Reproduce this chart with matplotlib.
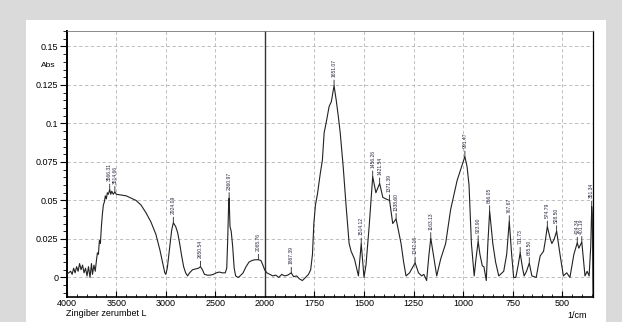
import matplotlib.pyplot as plt
import matplotlib.patches as mpatches
from matplotlib.ticker import FixedLocator
import numpy as np

plt.rcParams['font.family'] = ['Liberation Sans', 'DejaVu Sans']

# ---------------- spectre ----------------
wn = [4000, 3980, 3960, 3945, 3930, 3915, 3900, 3885, 3870, 3855, 3840, 3825, 3810, 3795,
      3780, 3765, 3750, 3740, 3725, 3712, 3700, 3690, 3680, 3670, 3660, 3650, 3640, 3630,
      3620, 3610, 3600, 3590, 3580, 3566, 3555, 3545, 3530, 3514, 3500, 3450, 3400, 3350,
      3300, 3250, 3200, 3150, 3100, 3060, 3030, 3010, 3000, 2985, 2960, 2940, 2924, 2900,
      2880, 2860, 2840, 2820, 2800, 2780, 2760, 2730, 2700, 2670, 2650, 2630, 2610, 2580,
      2550, 2520, 2490, 2460, 2430, 2400, 2385, 2375, 2367, 2361, 2352, 2340, 2325, 2310,
      2295, 2270, 2250, 2220, 2190, 2160, 2130, 2100, 2066, 2040, 2020, 2003, 1990, 1975,
      1960, 1945, 1930, 1915, 1900, 1885, 1867, 1855, 1840, 1825, 1811, 1795, 1780, 1769,
      1760, 1753, 1745, 1735, 1720, 1710, 1701, 1690, 1676, 1665, 1651, 1640, 1630, 1620,
      1605, 1590, 1575, 1565, 1548, 1528, 1514, 1500, 1490, 1474, 1456, 1440, 1421, 1405,
      1390, 1371, 1355, 1338, 1313, 1300, 1288, 1270, 1242, 1225, 1209, 1198, 1184, 1172,
      1163, 1150, 1133, 1113, 1088, 1063, 1030, 1000, 991, 980, 970, 958, 944, 935,
      924, 915, 903, 895, 883, 875, 866, 850, 836, 820, 795, 780, 767, 755,
      745, 734, 722, 712, 700, 692, 680, 666, 653, 631, 620, 611, 594, 585,
      575, 560, 552, 540, 528, 511, 494, 477, 461, 441, 424, 416, 401, 385,
      374, 364, 356, 351, 348, 344]
absb = [0.002, 0.003, 0.004, 0.002, 0.006, 0.003, 0.007, 0.004, 0.009, 0.005, 0.008, 0.003, 0.006, 0.001,
        0.007, 0.000, 0.009, 0.002, 0.008, 0.004, 0.011, 0.016, 0.015, 0.024, 0.022, 0.033, 0.041, 0.047,
        0.049, 0.053, 0.051, 0.055, 0.054, 0.057, 0.054, 0.056, 0.054, 0.0555, 0.054, 0.0535, 0.053, 0.0515,
        0.050, 0.047, 0.042, 0.036, 0.028, 0.018, 0.009, 0.003, 0.002, 0.006, 0.020, 0.031, 0.0355, 0.033,
        0.029, 0.022, 0.014, 0.007, 0.003, 0.001, 0.003, 0.005, 0.0055, 0.006, 0.007, 0.005, 0.002, 0.0015,
        0.0015, 0.002, 0.003, 0.0035, 0.003, 0.003, 0.006, 0.025, 0.045, 0.0515, 0.033, 0.030, 0.020, 0.006,
        0.001, 0.000, 0.001, 0.003, 0.007, 0.010, 0.011, 0.0115, 0.0115, 0.011, 0.008, 0.005, 0.003, 0.002,
        0.001, 0.0015, 0.000, 0.002, 0.001, 0.0015, 0.003, 0.0005, 0.001, -0.001, -0.002, 0.000, 0.002, 0.005,
        0.015, 0.035, 0.047, 0.054, 0.068, 0.076, 0.094, 0.101, 0.111, 0.114, 0.1245, 0.115, 0.105, 0.094,
        0.072, 0.046, 0.022, 0.017, 0.012, 0.001, 0.022, 0.000, 0.008, 0.033, 0.0655, 0.055, 0.061, 0.052,
        0.051, 0.050, 0.035, 0.038, 0.022, 0.010, 0.001, 0.003, 0.0095, 0.003, 0.001, 0.002, -0.002, 0.015,
        0.0255, 0.015, 0.001, 0.012, 0.022, 0.044, 0.063, 0.075, 0.0785, 0.072, 0.060, 0.022, 0.001, 0.012,
        0.0235, 0.015, 0.0075, 0.007, -0.002, 0.022, 0.043, 0.022, 0.010, 0.001, 0.004, 0.015, 0.0365, 0.015,
        0.000, 0.000, 0.008, 0.016, 0.006, 0.001, 0.004, 0.0093, 0.001, 0.000, 0.008, 0.014, 0.017, 0.024,
        0.033, 0.025, 0.022, 0.025, 0.030, 0.015, 0.001, 0.003, 0.000, 0.015, 0.0225, 0.019, 0.023, 0.001,
        0.004, 0.001, 0.020, 0.046, 0.040, -0.02]

# pics annotes
pic_wn = [3566, 3514, 2924, 2650, 2361, 2066, 1867, 1651, 1514, 1456, 1421, 1371, 1338,
          1242, 1163, 991, 924, 866, 767, 712, 666, 575, 528, 424, 401, 351]
pic_txt = ['3566.31', '3514.66', '2924.09', '2650.54', '2360.97', '2065.76', '1867.39',
           '1651.07', '1514.12', '1456.26', '1421.54', '1371.39', '1338.60', '1242.16',
           '1163.13', '991.47', '923.90', '866.05', '767.67', '711.73', '665.50',
           '574.79', '528.50', '424.34', '401.19', '351.34']

y_ticks = [0, 0.025, 0.05, 0.075, 0.1, 0.125, 0.15]
y_labels = ['0', '0.025', '0.05', '0.075', '0.1', '0.125', '0.15']
x_ticks = [4000, 3500, 3000, 2500, 2000, 1750, 1500, 1250, 1000, 750, 500]


# echelle coupee a 2000 (partie gauche compressee)
def fwd(x):
    x = np.asarray(x, dtype=float)
    return np.where(x > 2000, 2000 + (x - 2000) / 2.0, x)


def inv(y):
    y = np.asarray(y, dtype=float)
    return np.where(y > 2000, 2000 + (y - 2000) * 2.0, y)


fig = plt.figure(figsize=(6.22, 3.22), dpi=100)
fig.patch.set_facecolor('#dadada')
fig.patches.append(mpatches.Rectangle((26 / 622, 0), 580 / 622, 302 / 322,
                                      transform=fig.transFigure, facecolor='white',
                                      edgecolor='none', zorder=-10))

ax = fig.add_axes([66.7 / 622, 25.3 / 322, 526.6 / 622, 265.7 / 322])
ax.set_zorder(5)
ax.patch.set_alpha(0)
ax.set_xscale('function', functions=(fwd, inv))
ax.set_xlim(4000, 343)
ax.set_ylim(-0.0125, 0.16)

ax.plot(wn, absb, color='#222222', lw=0.8, zorder=3)

# grille
for xt in x_ticks[1:]:
    if xt == 2000:
        ax.axvline(xt, color='#333333', lw=1.0, zorder=2)
    else:
        ax.axvline(xt, color='#b4b4b4', lw=0.6, ls=(0, (4, 3)), zorder=1)
for yt in y_ticks:
    ax.axhline(yt, color='#b4b4b4', lw=0.6, ls=(0, (4, 3)), zorder=1)

ax.xaxis.set_major_locator(FixedLocator(x_ticks))
ax.xaxis.set_minor_locator(FixedLocator(list(np.arange(4000, 2000, -100)) + list(np.arange(2000, 340, -50))))
ax.set_xticklabels([str(v) for v in x_ticks], fontsize=6.5)
ax.yaxis.set_major_locator(FixedLocator(y_ticks))
ax.yaxis.set_minor_locator(FixedLocator(np.arange(-0.01, 0.161, 0.005)))
ax.set_yticklabels(y_labels, fontsize=6.5)
ax.tick_params(axis='x', which='major', direction='in', length=4, width=0.8, pad=2)
ax.tick_params(axis='x', which='minor', direction='in', length=2.5, width=0.6)
ax.tick_params(axis='y', which='major', direction='out', length=5, width=0.8, pad=1)
ax.tick_params(axis='y', which='minor', direction='out', length=3, width=0.6)

ax.spines['left'].set_linewidth(1.4)
ax.spines['bottom'].set_linewidth(1.2)
ax.spines['top'].set_linewidth(0.6)
ax.spines['top'].set_color('#777777')
ax.spines['right'].set_linewidth(0.9)

ax.text(-0.022, 0.1375, 'Abs', transform=ax.get_yaxis_transform(), ha='right',
        va='center', fontsize=6)

# etiquettes des pics
wn_r = np.array(wn[::-1], dtype=float)
ab_r = np.array(absb[::-1], dtype=float)
for p, t in zip(pic_wn, pic_txt):
    yp = np.interp(p, wn_r, ab_r)
    ax.annotate(t, xy=(p, yp), xytext=(0, 6), textcoords='offset points',
                rotation=90, ha='center', va='bottom', fontsize=3.6, color='#2a2a44',
                arrowprops=dict(arrowstyle='-', lw=0.6, color='#222222',
                                shrinkA=0, shrinkB=0), zorder=4)

fig.text(66 / 622, 1 - 314 / 322, 'Zingiber zerumbet L', fontsize=6.5, ha='left', va='center')
fig.text(577 / 622, 1 - 316 / 322, '1/cm', fontsize=6.5, ha='center', va='center')

fig.savefig('out.png', dpi=100, facecolor=fig.get_facecolor())
